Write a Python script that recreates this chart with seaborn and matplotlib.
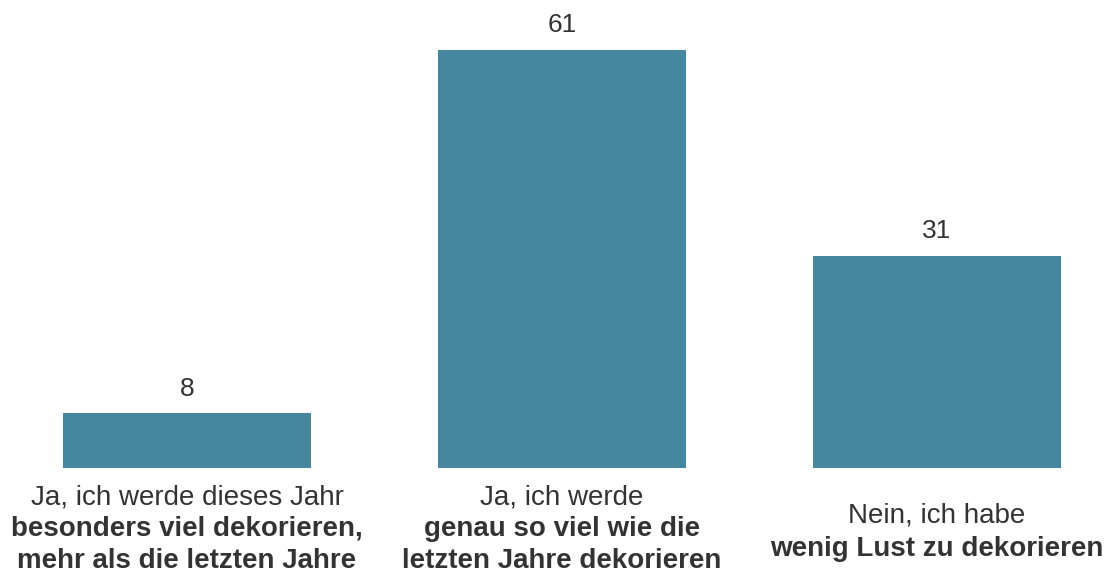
import matplotlib
matplotlib.use("Agg")
import matplotlib.pyplot as plt
import matplotlib.transforms as mtransforms
import seaborn as sns
import pandas as pd

categories = ["besonders_mehr", "genau_so_viel", "wenig_lust"]
values = [8, 61, 31]
label_regular = [["Ja, ich werde dieses Jahr"], ["Ja, ich werde"], ["Nein, ich habe"]]
label_bold = [["besonders viel dekorieren,", "mehr als die letzten Jahre"],
              ["genau so viel wie die", "letzten Jahre dekorieren"],
              ["wenig Lust zu dekorieren"]]

sns.set_theme(style="white")
plt.rcParams['font.family'] = ['Liberation Sans', 'DejaVu Sans']

BAR = "#44879E"
TXT = "#333333"

fig = plt.figure(figsize=(11.07, 5.79), dpi=100)
ax = fig.add_axes([0, 111/579, 1, 1 - 111/579])

df = pd.DataFrame({"cat": categories, "val": values})
sns.barplot(data=df, x="cat", y="val", color=BAR, saturation=1, width=0.66,
            linewidth=0, ax=ax)

ax.set_xlim(-187/375, (1107 - 187)/375)
ax.set_ylim(0, 468/(418/61))
ax.axis("off")

for c in ax.containers:
    ax.bar_label(c, labels=[str(v) for v in values], padding=9, fontsize=19, color=TXT)

trans = mtransforms.blended_transform_factory(ax.transData, fig.transFigure)
fs = 20
for i in range(len(categories)):
    lines = [(t, "normal") for t in label_regular[i]] + [(t, "bold") for t in label_bold[i]]
    n = len(lines)
    if n == 3:
        ys = [497, 529, 561]
    else:
        ys = [516, 549]
    for (t, w), ypx in zip(lines, ys):
        fig.text(i, 1 - ypx/579, t, transform=trans, ha="center", va="center",
                 fontsize=fs, fontweight=w, color=TXT)

fig.savefig("out.png", dpi=100)
